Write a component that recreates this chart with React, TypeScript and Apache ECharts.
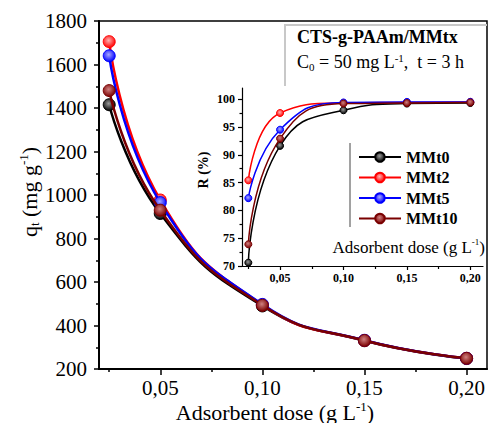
import React, { useEffect, useRef } from "react";
import * as echarts from "echarts";

const doses = [0.025, 0.05, 0.1, 0.15, 0.2];
const seriesNames = ["MMt0", "MMt2", "MMt5", "MMt10"];
const seriesColors = ["#000000", "#ff0000", "#0000ff", "#7a0000"];
const seriesLight = ["#9a9a9a", "#ffb0b0", "#a8a8ff", "#d08080"];
// q_t (mg g-1)
const qMMt0 = [1415, 915, 490, 330, 248];
const qMMt2 = [1705, 977, 495, 331, 249];
const qMMt5 = [1640, 965, 497, 332, 249];
const qMMt10 = [1480, 930, 493, 331, 249];
// R (%)
const rMMt0 = [70.6, 91.6, 98.0, 99.2, 99.3];
const rMMt2 = [85.4, 97.5, 99.3, 99.4, 99.5];
const rMMt5 = [82.2, 94.5, 99.4, 99.5, 99.5];
const rMMt10 = [73.9, 92.9, 99.2, 99.3, 99.4];

const xMajorTicks = [0.05, 0.1, 0.15, 0.2];
const xMinorTicks = [0.025, 0.075, 0.125, 0.175];
const insetYMajor = [70, 75, 80, 85, 90, 95, 100];
const insetYMinor = [72.5, 77.5, 82.5, 87.5, 92.5, 97.5];

const FONT = "'Liberation Serif', 'Times New Roman', serif";
const fmtX = (v: number) => v.toFixed(2).replace(".", ",");

export default function App() {
  const ref = useRef<HTMLDivElement>(null);
  useEffect(() => {
    if (!ref.current) return;
    const chart = echarts.init(ref.current, null, { renderer: "svg" });
    const qSets = [qMMt0, qMMt2, qMMt5, qMMt10];
    const rSets = [rMMt0, rMMt2, rMMt5, rMMt10];
    const ball = (i: number) => ({
      type: "radial",
      x: 0.45,
      y: 0.4,
      r: 0.6,
      colorStops: [
        { offset: 0, color: seriesLight[i] },
        { offset: 1, color: seriesColors[i] },
      ],
    });
    const series: any[] = [];
    qSets.forEach((arr, i) => {
      series.push({
        type: "line",
        name: seriesNames[i],
        xAxisIndex: 0,
        yAxisIndex: 0,
        smooth: true,
        symbol: "circle",
        symbolSize: 12,
        data: doses.map((d, k) => [d, arr[k]]),
        lineStyle: { color: seriesColors[i], width: 2.5 },
        itemStyle: { color: ball(i), borderColor: seriesColors[i], borderWidth: 1 },
        z: 2 + i,
      });
    });
    rSets.forEach((arr, i) => {
      series.push({
        type: "line",
        name: seriesNames[i],
        xAxisIndex: 2,
        yAxisIndex: 1,
        smooth: true,
        symbol: "circle",
        symbolSize: 7,
        data: doses.map((d, k) => [d, arr[k]]),
        lineStyle: { color: seriesColors[i], width: 1.5 },
        itemStyle: { color: ball(i), borderColor: seriesColors[i], borderWidth: 1 },
        z: 10 + i,
      });
    });

    const supRich = (size: number, supSize: number) => ({
      t: { fontFamily: FONT, fontSize: size, color: "#000", lineHeight: size + 2 },
      sup: { fontFamily: FONT, fontSize: supSize, color: "#000", verticalAlign: "top" },
      sub: { fontFamily: FONT, fontSize: supSize, color: "#000", verticalAlign: "bottom" },
    });

    const option: any = {
      animation: false,
      backgroundColor: "#fff",
      textStyle: { fontFamily: FONT },
      grid: [
        {
          left: 99,
          top: 21,
          right: 3,
          bottom: 54,
          show: true,
          borderColor: "#000",
          borderWidth: 1.5,
        },
        { left: 242, top: 88, width: 241, height: 178 },
      ],
      xAxis: [
        {
          type: "value",
          gridIndex: 0,
          position: "bottom",
          min: 0.02,
          max: 0.21,
          axisLine: { lineStyle: { color: "#000", width: 2 } },
          axisTick: { customValues: xMajorTicks, length: 6, lineStyle: { color: "#000", width: 1.5 } },
          axisLabel: {
            customValues: xMajorTicks,
            formatter: fmtX,
            fontFamily: FONT,
            fontSize: 21,
            color: "#000",
            margin: 8,
          },
          splitLine: { show: false },
        },
        {
          type: "value",
          gridIndex: 0,
          position: "bottom",
          min: 0.02,
          max: 0.21,
          axisLine: { show: false },
          axisTick: { customValues: xMinorTicks, length: 3, lineStyle: { color: "#000", width: 1.5 } },
          axisLabel: { show: false },
          splitLine: { show: false },
        },
        {
          type: "value",
          gridIndex: 1,
          position: "bottom",
          min: 0.02,
          max: 0.21,
          axisLine: { lineStyle: { color: "#000", width: 1.2 } },
          axisTick: { customValues: xMajorTicks, length: 4, lineStyle: { color: "#000", width: 1.2 } },
          axisLabel: {
            customValues: xMajorTicks,
            formatter: fmtX,
            fontFamily: FONT,
            fontWeight: "bold",
            fontSize: 12,
            color: "#000",
            margin: 6,
          },
          splitLine: { show: false },
        },
        {
          type: "value",
          gridIndex: 1,
          position: "bottom",
          min: 0.02,
          max: 0.21,
          axisLine: { show: false },
          axisTick: { customValues: xMinorTicks, length: 3, lineStyle: { color: "#000", width: 1.2 } },
          axisLabel: { show: false },
          splitLine: { show: false },
        },
      ],
      yAxis: [
        {
          type: "value",
          gridIndex: 0,
          position: "left",
          min: 200,
          max: 1800,
          interval: 200,
          axisLine: { show: true, lineStyle: { color: "#000", width: 2 } },
          axisTick: { show: true, length: 5, lineStyle: { color: "#000", width: 1.5 } },
          minorTick: { show: true, splitNumber: 2, length: 3, lineStyle: { color: "#000", width: 1.5 } },
          axisLabel: {
            formatter: (v: number) => String(v),
            fontFamily: FONT,
            fontSize: 21,
            color: "#000",
            margin: 12,
          },
          splitLine: { show: false },
        },
        {
          type: "value",
          gridIndex: 1,
          position: "left",
          min: 70,
          max: 102,
          axisLine: { show: true, lineStyle: { color: "#000", width: 1.2 } },
          axisTick: { show: true, customValues: insetYMajor, length: 4, lineStyle: { color: "#000", width: 1.2 } },
          axisLabel: {
            customValues: insetYMajor,
            formatter: (v: number) => String(v),
            fontFamily: FONT,
            fontWeight: "bold",
            fontSize: 12,
            color: "#000",
            margin: 7,
          },
          splitLine: { show: false },
        },
        {
          type: "value",
          gridIndex: 1,
          position: "left",
          min: 70,
          max: 102,
          axisLine: { show: false },
          axisTick: { show: true, customValues: insetYMinor, length: 2.5, lineStyle: { color: "#000", width: 1.2 } },
          axisLabel: { show: false },
          splitLine: { show: false },
        },
      ],
      legend: {
        data: seriesNames,
        orient: "vertical",
        left: 353,
        top: 144,
        itemWidth: 42,
        itemHeight: 12,
        itemGap: 4.5,
        textStyle: { fontFamily: FONT, fontWeight: "bold", fontSize: 16, color: "#000" },
      },
      graphic: [
        {
          type: "line",
          shape: { x1: 350, y1: 143, x2: 350, y2: 227 },
          style: { stroke: "#444", lineWidth: 1 },
        },
        {
          type: "polyline",
          shape: { points: [[285, 86], [285, 25], [487, 25]] },
          style: { stroke: "#c8c8c8", lineWidth: 2, fill: null },
        },
        {
          type: "text",
          x: 297,
          y: 37,
          style: {
            text: "CTS-g-PAAm/MMtx",
            fontFamily: FONT,
            fontWeight: "bold",
            fontSize: 18,
            fill: "#000",
            verticalAlign: "middle",
          },
        },
        {
          type: "text",
          x: 297,
          y: 62,
          style: {
            text: "{t|C}{sub|0}{t| = 50 mg L}{sup|-1}{t|,  t = 3 h}",
            fontFamily: FONT,
            rich: supRich(18, 11),
            verticalAlign: "middle",
          },
        },
        {
          type: "text",
          x: 29,
          y: 192,
          rotation: Math.PI / 2,
          style: {
            text: "{t|q}{sub|t}{t| (mg g}{sup|-1}{t|)}",
            fontFamily: FONT,
            rich: supRich(22, 13),
            align: "center",
            verticalAlign: "middle",
          },
        },
        {
          type: "text",
          x: 275,
          y: 412,
          style: {
            text: "{t|Adsorbent dose (g L}{sup|-1}{t|)}",
            fontFamily: FONT,
            rich: supRich(22, 13),
            align: "center",
            verticalAlign: "middle",
          },
        },
        {
          type: "text",
          x: 485,
          y: 247,
          style: {
            text: "{t|Adsorbent dose (g L}{sup|-1}{t|)}",
            fontFamily: FONT,
            rich: supRich(17, 9),
            align: "right",
            verticalAlign: "middle",
          },
        },
        {
          type: "text",
          x: 203,
          y: 170,
          rotation: Math.PI / 2,
          style: {
            text: "R (%)",
            fontFamily: FONT,
            fontWeight: "bold",
            fontSize: 14,
            fill: "#000",
            align: "center",
            verticalAlign: "middle",
          },
        },
      ],
      series,
    };
    chart.setOption(option);
    return () => chart.dispose();
  }, []);
  return (
    <div
      ref={ref}
      style={{ position: "absolute", left: 0, top: 0, width: 490, height: 423 }}
    />
  );
}
